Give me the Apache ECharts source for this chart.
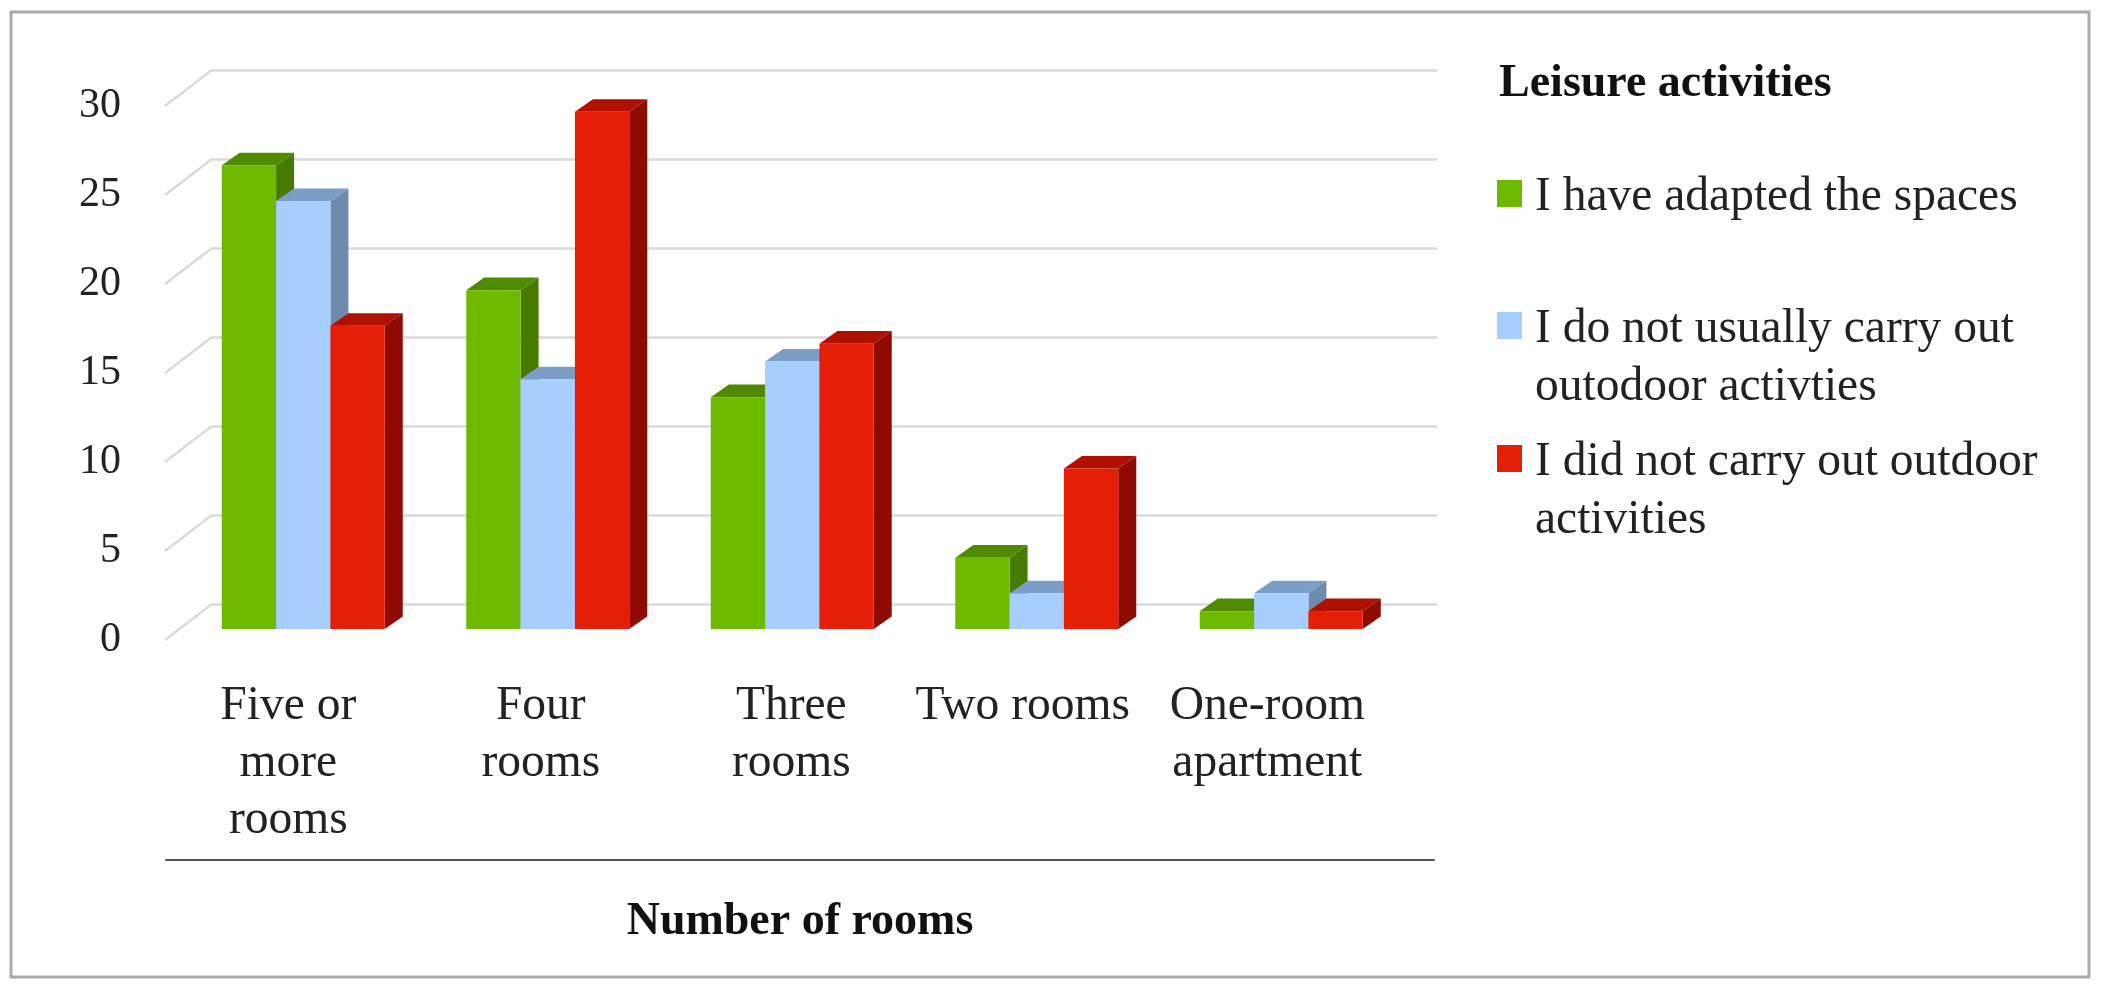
<!DOCTYPE html>
<html><head><meta charset="utf-8">
<style>html,body{margin:0;padding:0;background:#fff}#c{width:2103px;height:989px}</style>
<script src="https://cdn.jsdelivr.net/npm/echarts@6/dist/echarts.min.js"></script>
</head><body><div id="c"></div>
<script>
const categories = ['Five or\nmore\nrooms', 'Four\nrooms', 'Three\nrooms', 'Two rooms', 'One-room\napartment'];
const adapted = [26, 19, 13, 4, 1];
const notUsually = [24, 14, 15, 2, 2];
const didNot = [17, 29, 16, 9, 1];
const ticks = [0, 5, 10, 15, 20, 25, 30];
const names = ['I have adapted the spaces', 'I do not usually carry out\noutodoor activties', 'I did not carry out outdoor\nactivities'];
const labelShift = [30, 14, 2, 28, 28];

const FONT = '"Liberation Serif", serif', FS = 47.5, TXT = '#222';
const DEPTH_X = 18, DEPTH_Y = 12.6;
const styles = [
  { front: '#6DB900', top: '#4F8A00', side: '#467A00' },
  { front: '#A6CEFF', top: '#7C9DC6', side: '#6E8BAE' },
  { front: '#E51E07', top: '#B01000', side: '#8F0A00' }
];
const pts = a => ({ points: a });

function barRender(si) {
  return function (params, api) {
    const c = api.value(0), v = api.value(1);
    const band = api.size([1, 0])[0];
    const w = band * 0.2222, x0 = api.coord([c, 0])[0] - w * 1.5 + si * w;
    const yb = api.coord([c, 0])[1], yt = api.coord([c, v])[1];
    const s = styles[si], x1 = x0 + w;
    return {
      type: 'group', children: [
        { type: 'polygon', shape: pts([[x1, yb], [x1 + DEPTH_X, yb - DEPTH_Y], [x1 + DEPTH_X, yt - DEPTH_Y], [x1, yt]]), style: { fill: s.side } },
        { type: 'polygon', shape: pts([[x0, yt], [x0 + DEPTH_X, yt - DEPTH_Y], [x1 + DEPTH_X, yt - DEPTH_Y], [x1, yt]]), style: { fill: s.top } },
        { type: 'rect', shape: { x: x0, y: yt, width: w, height: yb - yt }, style: { fill: s.front } }
      ]
    };
  };
}
const barSeries = (si, values) => ({
  type: 'custom', name: names[si], xAxisIndex: 2, yAxisIndex: 2,
  itemStyle: { color: styles[si].front }, renderItem: barRender(si),
  encode: { x: 0, y: 1 }, clip: false,
  data: values.map((v, i) => [i, v])
});
const iconFor = h => 'path://M0,11H25V38H0Z M0,0H0.01V0.01H0Z M0,' + h + 'H0.01V' + (h + 0.01) + 'H0Z';
const legendAt = (i, top, boxH) => ({
  data: [names[i]], left: 1497, top, orient: 'vertical', padding: 0,
  itemWidth: 25, itemHeight: boxH,
  icon: iconFor(boxH), itemStyle: { borderWidth: 0 }, selectedMode: false,
  textStyle: { fontFamily: FONT, fontSize: FS, color: TXT, lineHeight: 58, padding: [0, 0, 0, 8] }
});
const hiddenAxis = { show: false };

const option = {
  animation: false, backgroundColor: '#fff',
  title: { text: 'Leisure activities', left: 1499, top: 60, padding: 0, textStyle: { fontFamily: FONT, fontSize: 46, fontWeight: 'bold', color: '#111', lineHeight: 48 } },
  legend: [legendAt(0, 169, 58), legendAt(1, 301, 116), legendAt(2, 434, 116)],
  grid: [
    { left: 165, width: 47, top: 106, height: 534 },
    { left: 212, right: 666, top: 70, height: 534 },
    { left: 181, right: 699.5, top: 94, height: 535 },
    { left: 166, right: 669, top: 859, height: 1 }
  ],
  xAxis: [
    { gridIndex: 0, type: 'value', min: 0, max: 1, show: false },
    { gridIndex: 1, type: 'value', min: 0, max: 1, show: false },
    {
      gridIndex: 2, type: 'category',
      data: categories.map((c, i) => ({ value: c, textStyle: { padding: [0, labelShift[i], 0, 0] } })),
      axisLine: { show: false }, axisTick: { show: false },
      axisLabel: { interval: 0, margin: 49, fontFamily: FONT, fontSize: FS, color: TXT, lineHeight: 57 }
    },
    {
      gridIndex: 3, type: 'category', data: categories, boundaryGap: true,
      axisLine: { show: true, onZero: false, lineStyle: { color: '#555', width: 2 } }, axisTick: { show: false }, axisLabel: { show: false },
      name: 'Number of rooms', nameLocation: 'middle', nameGap: 39,
      nameTextStyle: { fontFamily: FONT, fontSize: 46, fontWeight: 'bold', color: '#111' }
    }
  ],
  yAxis: [
    {
      gridIndex: 0, type: 'value', min: 0, max: 30, interval: 5,
      axisLine: { show: false }, axisTick: { show: false }, splitLine: { show: false },
      axisLabel: { margin: 44, fontFamily: FONT, fontSize: 42, color: TXT }
    },
    {
      gridIndex: 1, type: 'value', min: 0, max: 30, interval: 5,
      axisLine: { show: false }, axisTick: { show: false }, axisLabel: { show: false },
      splitLine: { show: true, lineStyle: { color: '#DADADA', width: 2.5 } }
    },
    { gridIndex: 2, type: 'value', min: 0, max: 30, ...hiddenAxis },
    { gridIndex: 3, type: 'value', ...hiddenAxis }
  ],
  graphic: [{
    type: 'rect', silent: true, z: -1,
    shape: { x: 11, y: 12, width: 2078, height: 965 },
    style: { fill: '#fff', stroke: '#A9A9A9', lineWidth: 3 }
  }],
  series: [
    {
      type: 'custom', xAxisIndex: 0, yAxisIndex: 0, silent: true, clip: false, z: 1,
      data: ticks.map(t => [t]), encode: { y: 0 },
      renderItem(params, api) {
        const v = api.value(0), a = api.coord([0, v]), b = api.coord([1, v]);
        return { type: 'line', shape: { x1: a[0], y1: a[1], x2: b[0], y2: b[1] - 36 }, style: { stroke: '#DADADA', lineWidth: 2.5 } };
      }
    },
    barSeries(0, adapted), barSeries(1, notUsually), barSeries(2, didNot)
  ]
};
const chart = echarts.init(document.getElementById('c'), null, { renderer: 'canvas' });
chart.setOption(option);
</script></body></html>
